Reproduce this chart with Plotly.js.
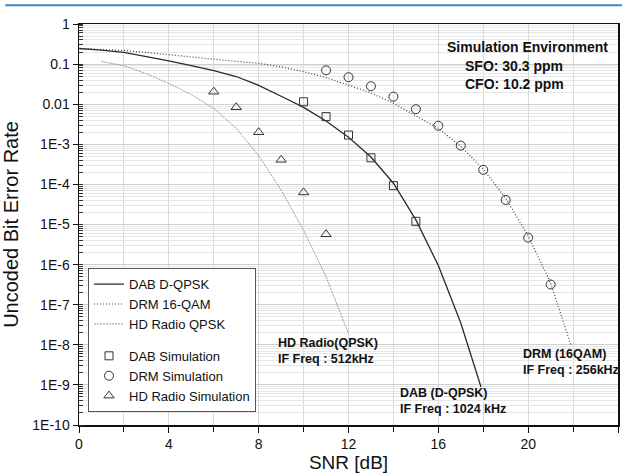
<!DOCTYPE html>
<html>
<head>
<meta charset="utf-8">
<script src="https://cdn.plot.ly/plotly-3.0.1.min.js"></script>
<style>html,body{margin:0;padding:0;background:#fff}#chart{width:622px;height:473px}</style>
</head>
<body>
<div id="chart"></div>
<script>
// Theoretical curves
const dabX = [0,1,2,3,4,5,6,7,8,9,10,11,12,13,14,15,16,17,17.9];
const dabY = [0.245,0.224,0.195,0.155,0.120,0.0912,0.0692,0.049,0.0295,0.0158,0.0083,0.0038,0.0015,4.8e-4,1.07e-4,1.3e-5,9.5e-7,3.5e-8,8.9e-10];
const drmX = [0,1,2,3,4,5,6,7,8,9,10,11,12,13,14,15,16,17,18,19,20,21,21.9];
const drmY = [0.245,0.234,0.219,0.195,0.170,0.151,0.132,0.117,0.105,0.085,0.065,0.046,0.030,0.019,0.0105,0.0052,0.0025,8.9e-4,2.4e-4,4.5e-5,5.2e-6,3.5e-7,1.0e-8];
const hdX = [1,2,3,4,5,6,7,8,9,10,11,12];
const hdY = [0.117,0.091,0.0575,0.033,0.0174,0.0079,0.0025,5.2e-4,7.2e-5,7.2e-6,5.0e-7,1.9e-8];
// Simulation points
const dabSimX = [10,11,12,13,14,15];
const dabSimY = [0.0115,0.0049,0.0017,4.6e-4,9.3e-5,1.2e-5];
const drmSimX = [11,12,13,14,15,16,17,18,19,20,21];
const drmSimY = [0.07,0.047,0.028,0.0154,0.0075,0.0029,9.3e-4,2.3e-4,4.1e-5,4.7e-6,3.2e-7];
const hdSimX = [6,7,8,9,10,11];
const hdSimY = [0.0205,0.0084,0.002,4.1e-4,6.3e-5,5.7e-6];
// Axis ticks
const xTicks = [0,4,8,12,16,20,24];
const yTickVals = [1,0.1,0.01,1e-3,1e-4,1e-5,1e-6,1e-7,1e-8,1e-9,1e-10];
const yTickText = ['1','0.1','0.01','1E-3','1E-4','1E-5','1E-6','1E-7','1E-8','1E-9','1E-10'];
const seriesNames = ['DAB D-QPSK','DRM 16-QAM','HD Radio QPSK','DAB Simulation','DRM Simulation','HD Radio Simulation'];

const FONT = 'Arial, "Liberation Sans", sans-serif';
const mk = {color:'rgba(0,0,0,0)', line:{color:'#333', width:1}};

const traces = [
  {x:dabX, y:dabY, name:seriesNames[0], mode:'lines', legendgroup:'a', line:{color:'#2a2a2a', width:1.3}},
  {x:drmX, y:drmY, name:seriesNames[1], mode:'lines', legendgroup:'a', line:{color:'#444', width:1.2, dash:'1px,2px'}},
  {x:hdX, y:hdY, name:seriesNames[2], mode:'lines', legendgroup:'a', line:{color:'#999', width:1, dash:'2px,1px'}},
  {x:dabSimX, y:dabSimY, name:seriesNames[3], mode:'markers', legendgroup:'b', marker:Object.assign({symbol:'square', size:8}, mk)},
  {x:drmSimX, y:drmSimY, name:seriesNames[4], mode:'markers', legendgroup:'b', marker:Object.assign({symbol:'circle', size:9}, mk)},
  {x:hdSimX, y:hdSimY, name:seriesNames[5], mode:'markers', legendgroup:'b', marker:Object.assign({symbol:'triangle-up', size:9}, mk)}
];

const annFont = {family:FONT, size:12.5, color:'#111', weight:'bold'};
const layout = {
  width:622, height:473,
  margin:{l:79, r:4, t:24, b:48},
  paper_bgcolor:'#fff', plot_bgcolor:'#fff',
  font:{family:FONT, color:'#111'},
  showlegend:true,
  legend:{x:0.0167, y:0.032, xanchor:'left', yanchor:'bottom', traceorder:'grouped', tracegroupgap:12,
          bgcolor:'#fff', bordercolor:'#555', borderwidth:1, font:{family:FONT, size:13, color:'#111'}},
  xaxis:{range:[0,24], tickvals:xTicks, ticks:'outside', ticklen:6, tickcolor:'#111', tickwidth:1,
         showline:true, linecolor:'#111', linewidth:1.5, mirror:true, zeroline:false,
         showgrid:true, gridcolor:'#d9d9d9', gridwidth:1,
         minor:{dtick:2, ticks:'outside', ticklen:5, tickcolor:'#111', showgrid:true, gridcolor:'#d9d9d9'},
         tickfont:{family:FONT, size:14, color:'#111'},
         title:{text:'SNR [dB]', font:{family:FONT, size:19, color:'#111'}, standoff:6}},
  yaxis:{type:'log', range:[-10,0], tickmode:'array', tickvals:yTickVals, ticktext:yTickText,
         ticks:'outside', ticklen:5, tickcolor:'#111', tickwidth:1,
         showline:true, linecolor:'#111', linewidth:1.5, mirror:true, zeroline:false,
         showgrid:true, gridcolor:'#cfcfcf', gridwidth:1,
         minor:{dtick:'D1', ticks:'inside', ticklen:4, tickcolor:'#333', showgrid:true, gridcolor:'#e6e6e6'},
         tickfont:{family:FONT, size:14, color:'#111'},
         title:{text:'Uncoded Bit Error Rate', font:{family:FONT, size:20, color:'#111'}, standoff:8}},
  shapes:[{type:'line', xref:'paper', yref:'paper', x0:-0.137, x1:1.01, y0:1.047, y1:1.047, line:{color:'#3f86c5', width:2}}],
  annotations:[
    {xref:'x', yref:'y', x:19.95, y:-0.566, text:'Simulation Environment', showarrow:false, xanchor:'center', yanchor:'middle', font:{family:FONT, size:14, color:'#111', weight:'bold'}},
    {xref:'x', yref:'y', x:17.1, y:-1.275, text:'SFO: 30.3 ppm<br>CFO: 10.2 ppm', showarrow:false, xanchor:'left', yanchor:'middle', align:'left', font:{family:FONT, size:14, color:'#111', weight:'bold'}},
    {xref:'x', yref:'y', x:8.75, y:-8.16, text:'HD Radio(QPSK)<br>IF Freq : 512kHz', showarrow:false, xanchor:'left', yanchor:'middle', align:'left', font:annFont},
    {xref:'x', yref:'y', x:14.2, y:-9.40, text:'DAB (D-QPSK)<br>IF Freq : 1024 kHz', showarrow:false, xanchor:'left', yanchor:'middle', align:'left', font:annFont},
    {xref:'x', yref:'y', x:19.67, y:-8.42, text:'DRM (16QAM)<br>IF Freq : 256kHz', showarrow:false, xanchor:'left', yanchor:'middle', align:'left', font:annFont}
  ]
};
Plotly.newPlot('chart', traces, layout, {staticPlot:true, displayModeBar:false});
</script>
</body>
</html>
